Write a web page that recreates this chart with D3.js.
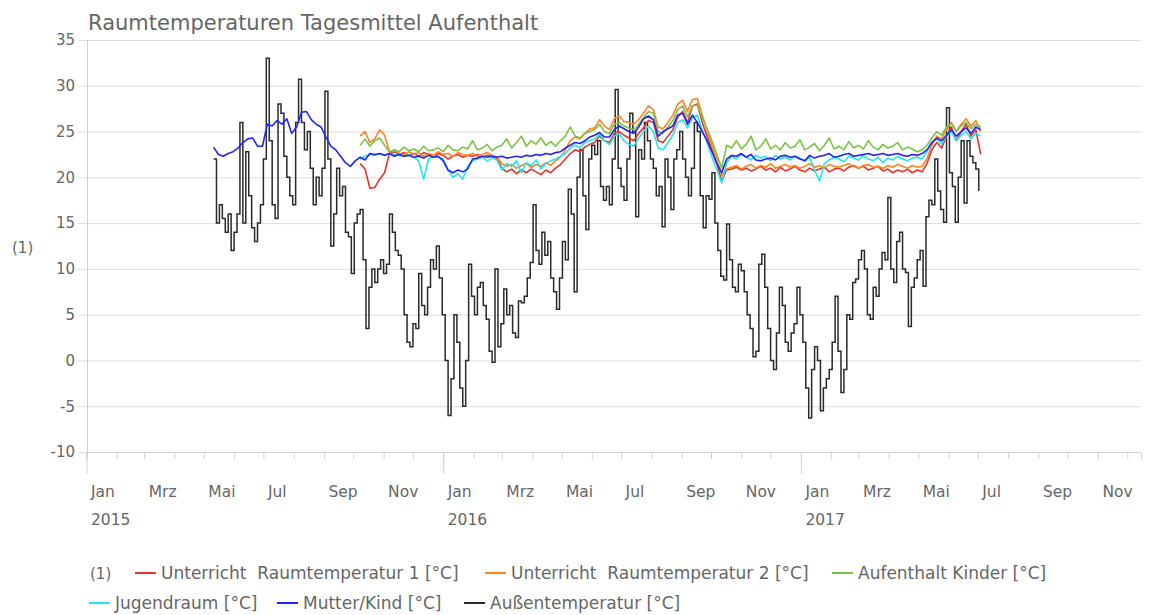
<!DOCTYPE html>
<html><head><meta charset="utf-8">
<script src="https://cdn.jsdelivr.net/npm/d3@7"></script>
<style>
html,body{margin:0;padding:0;background:#fff;}
svg text{font-family:"DejaVu Sans",Verdana,sans-serif;fill:#666;white-space:pre;}
</style></head><body>
<svg id="chart" width="1156" height="615"></svg>
<script>
// Daily-mean room temperatures, sampled series (start date + step in days)
const outdoorStart = "2015-05-11";
const outdoorStep = 3;
const outdoor = [
22,15,17,15.5,14,16,12,14,16,26,
15,22.8,18,14.5,13,15,17,22,33,24,
17,15.5,28,27,22.3,20,18,17,26,30.7,
26,23,25,21,17,20,18,21,29.4,22,
12.5,16,21,18,19,14,13.5,9.5,15,16,
16.5,11,3.5,8,10,8.5,10,11,9.5,10.5,
16,14,12,11.5,10,5,2,1.5,4,3.5,
9.5,6,5,8,11,10,12.5,9,5,0,
-6,-2,5,2,-3,-5,0,10.5,7,5,
8,8.5,6,4.5,1,-0.2,10,1.5,4,7.8,
5,6,3,2.5,6.5,6.3,7,9,10.7,17,
12,10.5,14,11.5,13,9,7.5,5.6,9,13,
11,18.7,16,7.5,20,23,18,14.3,22,23.5,
22.5,24,19,17.5,19,17,22,29.6,21,19,
17.5,22,27,25,15.7,23,22,26,24,22,
21,18,19,14.6,22,20,16.5,22,23,25,
22,20,18,21,26,25,18,14.5,18,17.6,
20.5,15,12,9.2,8.8,14.9,11,8,7.5,10.5,
9.8,7.5,5,3.5,0.4,1,10.5,11.6,8,3.5,
0,-1,3,8,6,2,1,3,4,8,
5,2,-3,-6.3,-1,1.5,0,-5.5,-3,-2,
-1,2,7,1,-3.5,-1,5,4.5,8.5,8.9,
11,12,10,5,4.5,8,7,10,11.8,11,
17.8,10,8.5,13,14,10,9.6,3.7,8,9,
11,12,8.1,15.7,17.5,17,22,18.5,16.5,15.1,
27.6,20.5,19,15.1,20,24,17.2,24,22.3,21.6,
20.9,18.5
];

const motherChildStart = "2015-05-11";
const motherChildStep = 5;
const motherChild = [
23.3,22.5,22.3,22.6,22.8,23.2,23.8,24.2,24.3,23.4,
23.4,25.8,25.6,26.2,25.8,26.4,24.8,25.5,27.1,27.2,
26.3,25.8,25.5,24.4,23.4,23,22.3,21.6,21.2,21.8,
22.2,21.9,22.6,22.5,22.6,22.4,22.6,22.3,22.5,22.3,
22.4,22.2,22.3,22.1,22.4,22.2,22.3,21.8,20.8,20.5,
20.8,20.6,20.9,22.0,22.1,22.3,22.2,22.3,22.2,22.3,
22.1,22.2,22.3,22.2,22.4,22.3,22.5,22.4,22.6,22.5,
22.7,22.8,23.2,23.5,23.8,23.7,24.0,24.4,24.6,24.9,
24.4,24.4,25.2,25.6,25.3,25.0,24.8,25.5,26.4,26.7,
26.3,24.5,25.0,25.3,25.6,26.8,27.0,25.8,26.8,26.0,
25.0,24.0,22.8,21.5,20.5,22.0,22.4,22.3,22.6,22.2,
22.5,21.9,21.8,22.0,22.1,21.9,22.3,22.4,22.2,22.3,
22.0,21.8,22.4,22.1,22.3,22.4,22.6,22.2,22.3,22.5,
22.6,22.3,22.4,22.5,22.6,22.4,22.5,22.6,22.4,22.5,
22.6,22.4,22.3,22.5,22.4,22.6,23.0,23.8,24.3,24.0,
24.6,25.2,24.5,25.0,25.4,24.8,25.5,25.2
];

const roomsStart = "2015-10-08";
const roomsStep = 5;
const classroom1 = [
21.5,20.9,18.8,18.9,19.8,20.5,22.6,22.8,22.5,22.7,
22.4,22.6,22.3,22.7,22.5,22.2,22.6,22.4,22.0,22.3,
22.5,22.2,22.4,22.3,22.5,22.2,22.4,22.3,22.1,21.0,
20.6,20.9,20.4,20.8,20.5,20.9,20.6,20.3,20.8,20.5,
21.0,21.4,22.0,22.6,23.0,22.8,23.3,23.6,23.8,24.5,
24.0,23.8,24.8,25.0,24.6,24.3,24.0,24.8,25.4,26.2,
26.0,24.0,23.8,24.5,25.2,26.6,27.2,26.0,27.8,28.0,
26.0,24.5,23.0,21.5,19.6,20.8,20.9,21.1,20.8,21.0,
20.7,20.9,21.2,20.8,21.0,20.6,21.1,20.7,20.9,21.2,
20.8,20.6,21.0,20.7,20.9,21.1,20.6,20.9,21.0,20.7,
21.1,21.3,21.0,21.2,20.8,21.0,21.2,20.7,20.9,20.5,
20.8,20.6,20.9,20.5,20.8,20.6,21.5,23.0,23.8,23.2,
24.5,25.5,24.0,25.0,25.8,24.5,25.2,22.5
];
const classroom2 = [
24.5,25.0,23.8,24.2,25.2,24.6,22.8,22.9,
22.6,22.4,22.8,22.5,22.7,22.3,22.6,22.4,22.8,22.5,22.6,22.3,22.7,22.5,22.4,22.6,22.3,22.5,22.7,22.4,22.2,
21.5,21.2,21.4,21.0,21.3,21.5,21.1,21.4,21.2,21.6,21.3,21.8,
22.2,23.0,24.0,24.4,24.2,24.8,25.3,25.4,26.3,25.6,25.2,26.4,26.7,26.1,26.0,25.8,26.3,27.0,27.8,27.4,
25.5,25.3,26.0,26.8,28.0,28.4,27.2,28.5,28.6,26.8,25.2,23.5,22.0,20.2,20.9,
21.1,21.3,20.9,21.2,21.4,21.0,21.3,21.1,21.5,21.0,21.2,21.4,21.1,21.3,21.0,21.2,21.5,21.1,21.3,21.0,
21.4,21.2,21.1,21.3,21.5,21.2,21.0,21.3,21.4,21.1,21.2,21.0,21.3,21.1,21.4,21.2,21.0,21.3,21.1,21.2,
22.0,23.5,24.5,24.2,25.2,26.0,25.0,25.8,26.4,25.6,26.2,25.0
];
const childrenRoom = [
23.5,24.2,23.4,24.0,24.3,23.5,22.8,
23.0,22.8,23.3,22.9,23.1,22.8,23.4,22.9,23.0,23.2,22.8,23.5,23.0,22.9,23.3,23.1,24.0,23.0,23.2,23.6,22.9,23.3,
23.5,24.2,23.2,23.8,24.5,23.4,24.0,23.6,24.3,23.5,23.9,23.4,24.0,
24.5,25.5,24.5,24.3,24.8,25.0,25.2,25.8,25.0,24.8,25.8,26.0,25.6,25.4,25.2,25.8,26.5,27.2,27.0,
25.0,24.8,25.5,26.2,27.4,27.8,26.6,27.8,27.9,26.5,25.3,24.0,22.5,21.0,23.5,
23.2,24.0,23.1,23.6,24.5,23.0,23.4,24.2,23.1,23.5,23.0,23.8,23.2,23.4,24.1,23.0,23.3,23.7,22.9,23.5,
24.3,23.1,23.4,23.0,23.9,23.2,23.5,23.1,24.0,23.3,23.0,23.6,23.2,23.4,23.8,23.0,23.3,23.1,22.8,23.0,
23.5,24.3,25.0,24.6,25.5,25.9,25.0,25.6,26.0,25.3,25.8,25.5
];
const youthRoom = [
22.0,22.3,22.5,22.4,22.6,22.4,22.6,22.5,22.4,22.3,22.5,22.2,21.8,19.8,22.0,22.3,22.2,22.0,20.8,20.0,20.4,19.8,21.2,21.8,
22.0,22.2,21.8,22.1,21.9,20.8,21.5,21.2,21.8,20.5,21.6,21.3,21.9,20.9,21.5,21.8,22.0,
22.3,22.6,23.2,23.5,23.2,23.8,24.0,24.2,24.7,24.0,23.6,24.5,24.8,24.0,23.6,23.4,24.3,25.0,25.6,25.0,
23.2,23.0,23.8,24.6,26.0,26.3,25.4,26.5,26.8,25.2,23.8,22.2,20.8,19.4,21.6,
22.3,22.0,22.5,22.2,21.9,22.4,22.1,22.3,21.8,22.4,22.0,22.2,21.9,22.3,22.1,21.8,22.2,20.8,19.6,21.5,
21.9,22.2,22.0,21.7,22.3,22.1,21.9,22.4,22.0,21.8,22.2,21.6,22.1,21.9,22.3,22.0,21.8,22.1,22.2,22.0,
22.8,23.8,24.2,23.6,24.6,25.0,24.0,24.6,25.0,24.2,24.8,24.5
];

const yTicks = [-10,-5,0,5,10,15,20,25,30,35];
const monthNames = ["Jan","Feb","Mrz","Apr","Mai","Jun","Jul","Aug","Sep","Okt","Nov","Dez"];
const legendLabels = [
  "Unterricht  Raumtemperatur 1 [°C]",
  "Unterricht  Raumtemperatur 2 [°C]",
  "Aufenthalt Kinder [°C]",
  "Jugendraum [°C]",
  "Mutter/Kind [°C]",
  "Außentemperatur [°C]"
];
const seriesColors = ["#e8322a","#ff8420","#7cc245","#22e6f0","#2424f4","#2a2a2a"];

(function () {
  const parse = d3.utcParse("%Y-%m-%d");
  function toSeries(start, step, values) {
    const t0 = parse(start);
    return values.map((v, i) => ({date: d3.utcDay.offset(t0, i * step), v}));
  }

  const svg = d3.select("#chart");
  const plotLeft = 87, plotRight = 1141, plotTop = 40, plotBottom = 452;
  const x = d3.scaleUtc()
    .domain([new Date(Date.UTC(2015,0,1)), new Date(Date.UTC(2017,11,15))])
    .range([plotLeft - 0.5, plotRight]);
  const y = d3.scaleLinear().domain([-10, 35]).range([plotBottom, plotTop]);

  // title
  svg.append("text").attr("x", 88).attr("y", 30)
    .style("font-size", "21px").style("fill", "#666")
    .text("Raumtemperaturen Tagesmittel Aufenthalt");

  // y axis with horizontal gridlines
  const yAxis = svg.append("g").attr("transform", "translate(78,0)")
    .call(d3.axisLeft(y).tickValues(yTicks).tickSize(-(plotRight - 78)).tickPadding(3).tickFormat(d => String(d)));
  yAxis.select(".domain").remove();
  yAxis.selectAll(".tick line").attr("stroke", "#dcdcdc");
  yAxis.selectAll(".tick text").style("font-size", "15px").style("fill", "#666");

  // vertical axis line
  svg.append("line").attr("x1", plotLeft + 0.5).attr("x2", plotLeft + 0.5)
    .attr("y1", plotTop).attr("y2", plotBottom).attr("stroke", "#d0d0d0");

  // month ticks and labels
  const xMonths = svg.append("g").attr("transform", `translate(0,${plotBottom})`)
    .call(d3.axisBottom(x).ticks(d3.utcMonth.every(1)).tickSize(7).tickPadding(27)
      .tickFormat(d => d.getUTCMonth() % 2 === 0 ? monthNames[d.getUTCMonth()] : ""));
  xMonths.select(".domain").attr("stroke", "#d0d0d0");
  xMonths.selectAll(".tick line").attr("stroke", "#d0d0d0");
  xMonths.selectAll(".tick text").attr("text-anchor", "start").attr("dx", 4)
    .style("font-size", "15.5px").style("fill", "#666");

  // year ticks and labels
  const xYears = svg.append("g").attr("transform", `translate(0,${plotBottom})`)
    .call(d3.axisBottom(x).ticks(d3.utcYear.every(1)).tickSize(22).tickPadding(40)
      .tickFormat(d3.utcFormat("%Y")));
  xYears.select(".domain").remove();
  xYears.selectAll(".tick line").attr("stroke", "#d0d0d0");
  xYears.selectAll(".tick text").attr("text-anchor", "start").attr("dx", 4)
    .style("font-size", "15.5px").style("fill", "#666");

  // y axis unit label
  svg.append("text").attr("x", 12).attr("y", 253).style("font-size", "15px").text("(1)");

  // series
  const line = d3.line().x(d => x(d.date)).y(d => y(d.v));
  const stepLine = d3.line().curve(d3.curveStepAfter).x(d => x(d.date)).y(d => y(d.v));

  const plot = svg.append("g");
  plot.append("path").datum(toSeries(outdoorStart, outdoorStep, outdoor))
    .attr("d", stepLine).attr("fill", "none").attr("stroke", seriesColors[5]).attr("stroke-width", 1.5);

  const indoor = [
    {vals: classroom1, start: roomsStart, step: roomsStep, c: seriesColors[0]},
    {vals: classroom2, start: roomsStart, step: roomsStep, c: seriesColors[1]},
    {vals: childrenRoom, start: roomsStart, step: roomsStep, c: seriesColors[2]},
    {vals: youthRoom, start: roomsStart, step: roomsStep, c: seriesColors[3]},
    {vals: motherChild, start: motherChildStart, step: motherChildStep, c: seriesColors[4]}
  ];
  indoor.forEach(s => {
    plot.append("path").datum(toSeries(s.start, s.step, s.vals))
      .attr("d", line).attr("fill", "none").attr("stroke", s.c).attr("stroke-width", 1.6)
      .attr("stroke-linejoin", "round");
  });

  // legend
  const legendPos = [
    {x: 135, y: 573}, {x: 485, y: 573}, {x: 832, y: 573},
    {x: 89, y: 603}, {x: 277, y: 603}, {x: 464, y: 603}
  ];
  svg.append("text").attr("x", 90).attr("y", 579).style("font-size", "15px").text("(1)");
  const lg = svg.append("g").selectAll("g").data(legendLabels).join("g")
    .attr("transform", (d, i) => `translate(${legendPos[i].x},${legendPos[i].y})`);
  lg.append("line").attr("x1", 0).attr("x2", 21).attr("y1", 0).attr("y2", 0)
    .attr("stroke", (d, i) => seriesColors[i]).attr("stroke-width", 2);
  lg.append("text").attr("x", 26).attr("y", 6).style("font-size", "17px").text(d => d);
})();
</script>
</body></html>
